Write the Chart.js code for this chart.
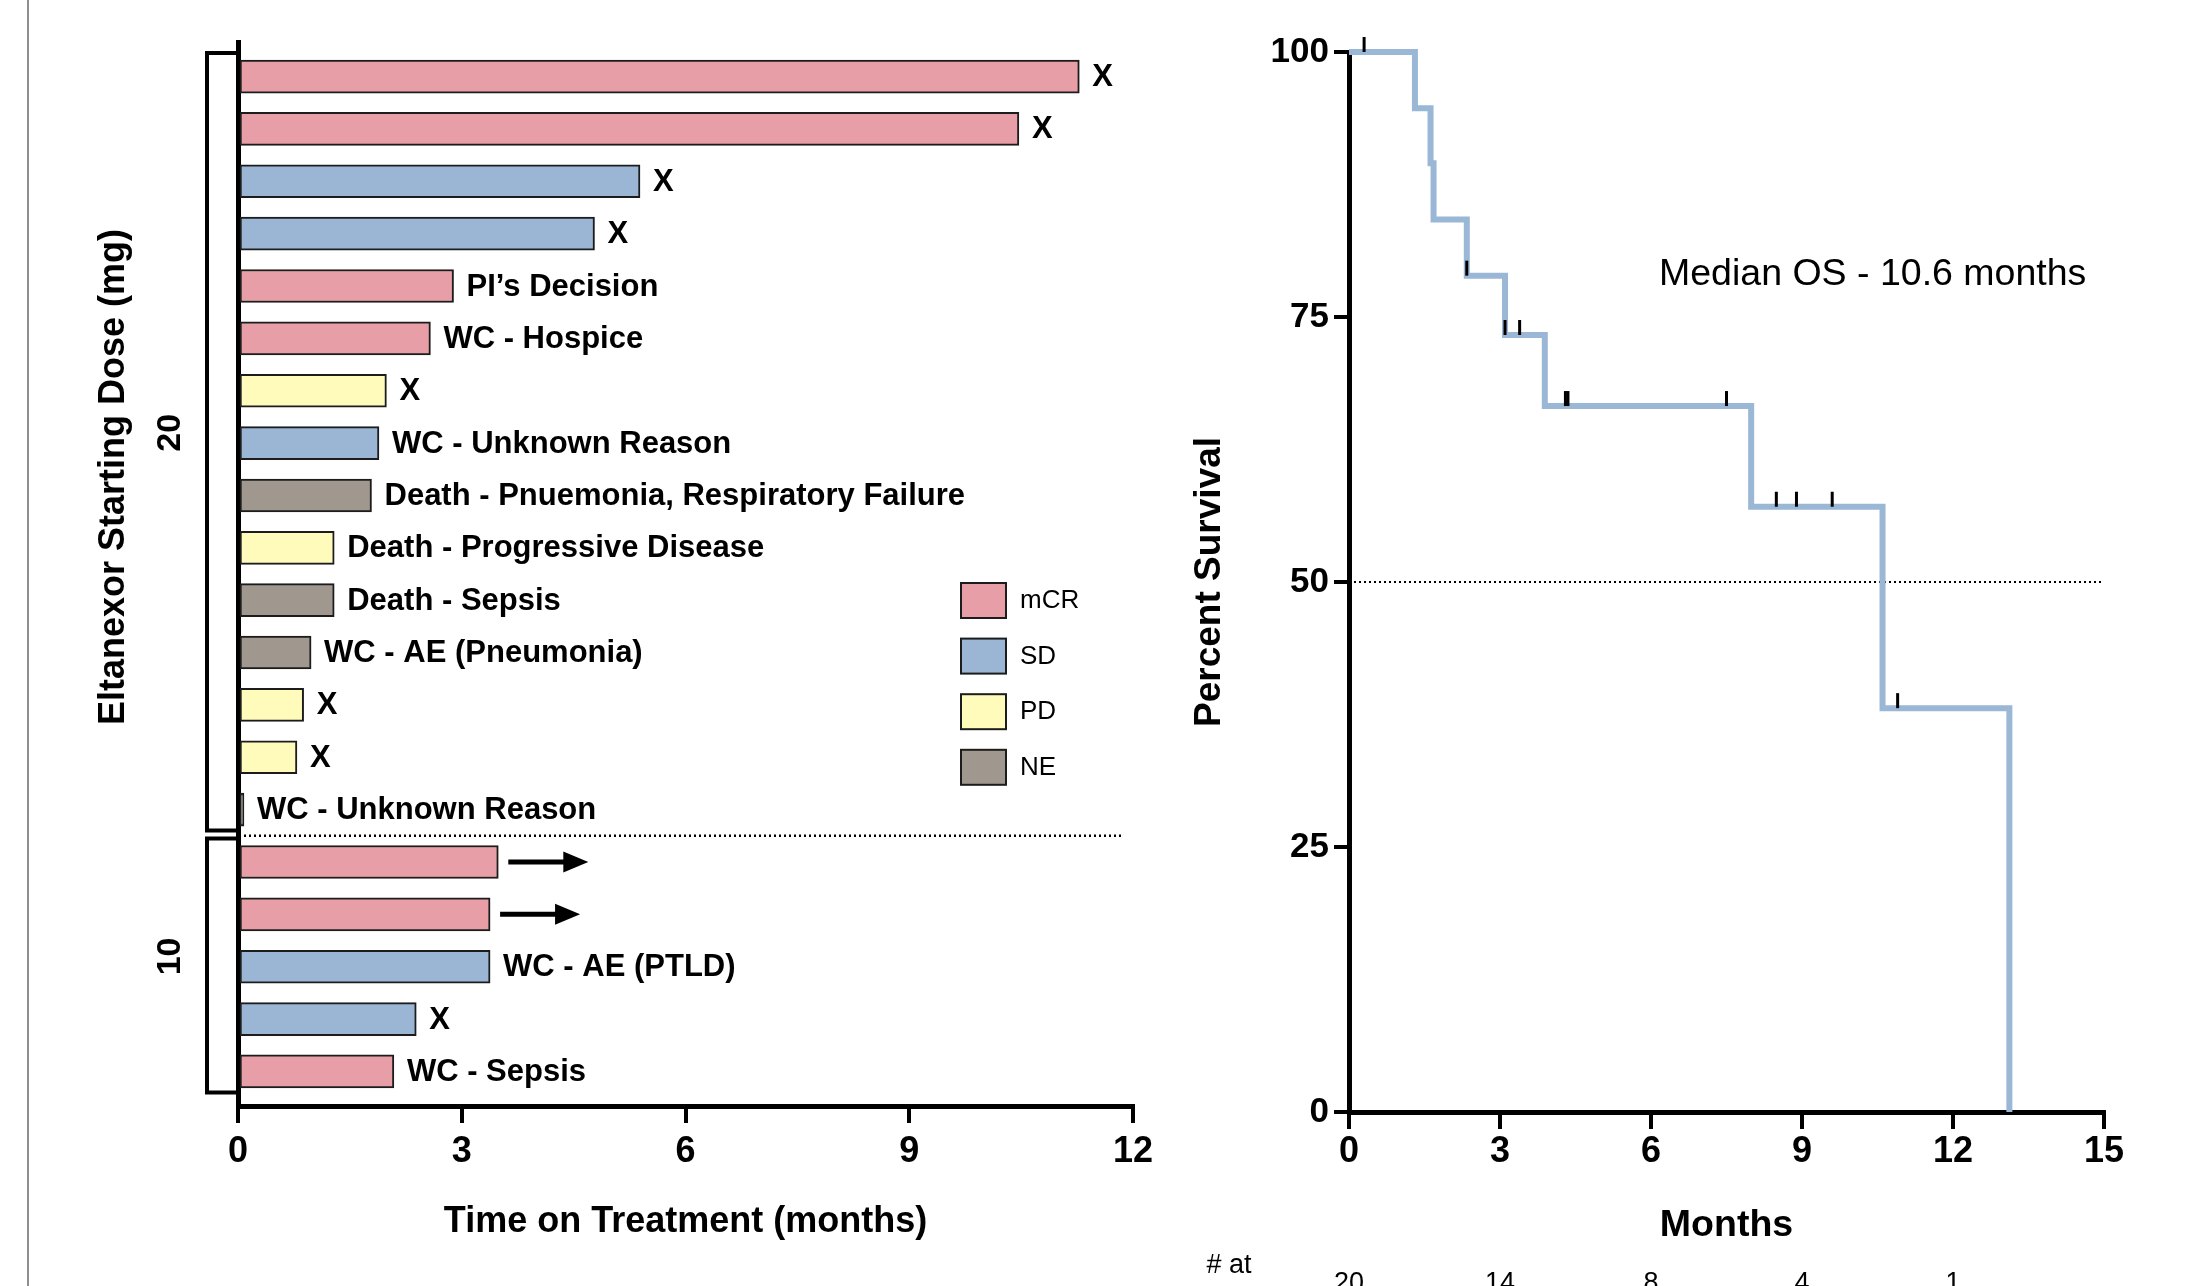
<!DOCTYPE html>
<html>
<head>
<meta charset="utf-8">
<title>Eltanexor: time on treatment and overall survival</title>
<script src="https://cdn.jsdelivr.net/npm/chart.js@4.4.0/dist/chart.umd.min.js"></script>
<style>
  html, body { margin: 0; padding: 0; background: #fff; }
  body { width: 2186px; height: 1286px; position: relative; overflow: hidden; }
  .panel { position: absolute; top: 0; height: 1286px; }
  #swimmerWrap { left: 0; width: 1170px; }
  #kmWrap { left: 1150px; width: 1036px; }
</style>
</head>
<body>
<div class="panel" id="swimmerWrap"><canvas id="swimmerChart" width="1170" height="1286"></canvas></div>
<div class="panel" id="kmWrap"><canvas id="kmChart" width="1036" height="1286"></canvas></div>
<script>
// SWIMMER PLOT DATA (top row first)
const patientRows = [1, 2, 3, 4, 5, 6, 7, 8, 9, 10, 11, 12, 13, 14, 15, 16, 17, 18, 19, 20];
const monthsOnTreatment = [11.28, 10.47, 5.39, 4.78, 2.89, 2.58, 1.99, 1.89, 1.79, 1.29, 1.29, 0.98, 0.88, 0.79, 0.08, 3.49, 3.38, 3.38, 2.39, 2.09];
const responses = ["mCR", "mCR", "SD", "SD", "mCR", "mCR", "PD", "SD", "NE", "PD", "NE", "NE", "PD", "PD", "NE", "mCR", "mCR", "SD", "SD", "mCR"];
const outcomes = [
  "X", "X", "X", "X", "PI\u2019s Decision", "WC - Hospice", "X", "WC - Unknown Reason",
  "Death - Pnuemonia, Respiratory Failure", "Death - Progressive Disease", "Death - Sepsis",
  "WC - AE (Pneumonia)", "X", "X", "WC - Unknown Reason", "ongoing", "ongoing",
  "WC - AE (PTLD)", "X", "WC - Sepsis"
];
const doseGroups = ["20", "10"];
const doseGroupFirstRow = [1, 16];
const doseGroupLastRow = [15, 20];
const responseCategories = ["mCR", "SD", "PD", "NE"];
const treatmentTicks = [0, 3, 6, 9, 12];

// KAPLAN-MEIER DATA
const eventMonths = [0, 1.31, 1.62, 1.68, 2.34, 3.1, 3.89, 7.99, 10.6, 13.12];
const survivalPercent = [100, 94.7, 89.5, 84.2, 78.9, 73.3, 66.6, 57.1, 38.1, 0];
const censoredMonths = [0.3, 2.34, 3.1, 3.39, 4.3, 4.35, 7.5, 8.49, 8.89, 9.6, 10.9];
const atRiskMonths = [0, 3, 6, 9, 12];
const atRiskCounts = [20, 14, 8, 4, 1];
const survivalTicks = [0, 25, 50, 75, 100];
const monthTicks = [0, 3, 6, 9, 12, 15];
const medianLine = 50;

const responseColors = {
  mCR: "#e79ea6",
  SD: "#9ab6d4",
  PD: "#fffbbb",
  NE: "#a0978f"
};

const FONT = "'Liberation Sans', Arial, Helvetica, sans-serif";
Chart.defaults.font.family = FONT;
Chart.defaults.color = "#000";

function survivalAt(t) {
  let level = survivalPercent[0];
  eventMonths.forEach((m, i) => {
    if (m <= t) level = survivalPercent[i];
  });
  return level;
}

// SWIMMER DECORATIONS
const swimmerDecor = {
  id: "swimmerDecor",
  afterDraw(chart) {
    const { ctx, chartArea } = chart;
    const xs = chart.scales.x;
    const ys = chart.scales.y;

    ctx.save();

    // page frame line
    ctx.strokeStyle = "#8f8f8f";
    ctx.lineWidth = 2;
    ctx.beginPath();
    ctx.moveTo(28, 0);
    ctx.lineTo(28, chart.height);
    ctx.stroke();

    // end-of-bar labels and arrows
    ctx.fillStyle = "#000";
    ctx.strokeStyle = "#000";
    ctx.textBaseline = "middle";
    ctx.textAlign = "left";
    ctx.font = "bold 31px " + FONT;
    patientRows.forEach((row, i) => {
      const x0 = xs.getPixelForValue(monthsOnTreatment[i]);
      const y = ys.getPixelForValue(row);
      if (outcomes[i] === "ongoing") {
        ctx.lineWidth = 5;
        ctx.beginPath();
        ctx.moveTo(x0 + 10, y);
        ctx.lineTo(x0 + 68, y);
        ctx.stroke();
        ctx.beginPath();
        ctx.moveTo(x0 + 65, y - 10.5);
        ctx.lineTo(x0 + 90, y);
        ctx.lineTo(x0 + 65, y + 10.5);
        ctx.closePath();
        ctx.fill();
      } else {
        ctx.fillText(outcomes[i], x0 + 13, y + 1);
      }
    });

    // dose group brackets
    ctx.lineWidth = 4;
    doseGroups.forEach((label, g) => {
      const top = ys.getPixelForValue(doseGroupFirstRow[g] - 0.45);
      const bottom = ys.getPixelForValue(doseGroupLastRow[g] + 0.4);
      const left = chartArea.left - 31;
      ctx.beginPath();
      ctx.moveTo(chartArea.left, top);
      ctx.lineTo(left, top);
      ctx.lineTo(left, bottom);
      ctx.lineTo(chartArea.left, bottom);
      ctx.stroke();

      ctx.save();
      ctx.translate(chartArea.left - 67, (top + bottom) / 2 - 9);
      ctx.rotate(-Math.PI / 2);
      ctx.textAlign = "center";
      ctx.font = "bold 34px " + FONT;
      ctx.fillText(label, 0, 0);
      ctx.restore();
    });

    // dotted separator between dose groups
    const sepY = ys.getPixelForValue(doseGroupLastRow[0] + 0.5);
    ctx.lineWidth = 2.5;
    ctx.setLineDash([2, 3]);
    ctx.beginPath();
    ctx.moveTo(chartArea.left + 6, sepY);
    ctx.lineTo(chartArea.right - 11, sepY);
    ctx.stroke();
    ctx.setLineDash([]);

    // legend
    ctx.font = "26px " + FONT;
    responseCategories.forEach((cat, i) => {
      const bx = 961;
      const by = 583 + i * 55.6;
      ctx.fillStyle = responseColors[cat];
      ctx.fillRect(bx, by, 45, 35);
      ctx.strokeStyle = "#1c1c1c";
      ctx.lineWidth = 2;
      ctx.strokeRect(bx, by, 45, 35);
      ctx.fillStyle = "#000";
      ctx.fillText(cat, 1020, by + 18);
    });

    // y axis title
    ctx.save();
    ctx.translate(114, 477);
    ctx.rotate(-Math.PI / 2);
    ctx.textAlign = "center";
    ctx.font = "bold 36px " + FONT;
    ctx.fillText("Eltanexor Starting Dose (mg)", 0, 0);
    ctx.restore();

    ctx.restore();
  }
};

new Chart(document.getElementById("swimmerChart"), {
  type: "bar",
  data: {
    datasets: [
      {
        data: patientRows.map((row, i) => ({ x: monthsOnTreatment[i], y: row })),
        backgroundColor: responses.map((r) => responseColors[r]),
        borderColor: "#1c1c1c",
        borderWidth: 2,
        borderSkipped: false,
        barThickness: 33
      }
    ]
  },
  options: {
    indexAxis: "y",
    responsive: false,
    animation: false,
    layout: { padding: { top: 42, right: 37, left: 0, bottom: 0 } },
    plugins: {
      legend: { display: false },
      tooltip: { enabled: false }
    },
    scales: {
      x: {
        type: "linear",
        min: 0,
        max: 12,
        afterBuildTicks: (scale) => {
          scale.ticks = treatmentTicks.map((v) => ({ value: v }));
        },
        ticks: {
          color: "#000",
          padding: 7,
          font: { size: 36, weight: "bold" }
        },
        grid: {
          drawOnChartArea: false,
          tickLength: 17,
          lineWidth: 4,
          tickWidth: 4,
          color: "#000",
          tickColor: "#000"
        },
        border: { width: 5, color: "#000" },
        title: {
          display: true,
          text: "Time on Treatment (months)",
          color: "#000",
          font: { size: 36, weight: "bold" },
          padding: { top: 0, bottom: 42 }
        },
        afterFit: (scale) => {
          scale.height = 180;
        }
      },
      y: {
        type: "linear",
        min: 0.34,
        max: 20.66,
        reverse: true,
        offset: false,
        grace: 0,
        ticks: { display: false },
        grid: { display: false, offset: false },
        border: { width: 5, color: "#000" },
        afterFit: (scale) => {
          scale.width = 238;
        }
      }
    }
  },
  plugins: [swimmerDecor]
});

// KAPLAN-MEIER DECORATIONS
const kmDecor = {
  id: "kmDecor",
  afterDraw(chart) {
    const { ctx } = chart;
    const xs = chart.scales.x;
    const ys = chart.scales.y;

    ctx.save();

    // censor marks
    ctx.strokeStyle = "#000";
    ctx.lineWidth = 3;
    censoredMonths.forEach((t) => {
      const x = xs.getPixelForValue(t);
      const y = ys.getPixelForValue(survivalAt(t));
      ctx.beginPath();
      ctx.moveTo(x, y);
      ctx.lineTo(x, y - 15);
      ctx.stroke();
    });

    ctx.fillStyle = "#000";
    ctx.textBaseline = "middle";

    // median annotation
    ctx.textAlign = "left";
    ctx.font = "37.5px " + FONT;
    ctx.fillText("Median OS - 10.6 months", 509, 275);

    // number at risk
    ctx.font = "27px " + FONT;
    ctx.textAlign = "center";
    ctx.fillText("# at", 79, 1266);
    ctx.fillText("risk", 79, 1304);
    atRiskMonths.forEach((t, i) => {
      ctx.fillText(String(atRiskCounts[i]), xs.getPixelForValue(t), 1284);
    });

    ctx.restore();
  }
};

new Chart(document.getElementById("kmChart"), {
  type: "line",
  data: {
    datasets: [
      {
        data: eventMonths.map((t, i) => ({ x: t, y: survivalPercent[i] })),
        stepped: "before",
        borderColor: "#9ab7d6",
        borderWidth: 6,
        borderCapStyle: "butt",
        borderJoinStyle: "miter",
        pointRadius: 0,
        fill: false,
        clip: false
      },
      {
        data: [
          { x: 0, y: medianLine },
          { x: 15, y: medianLine }
        ],
        borderColor: "#000",
        borderWidth: 2,
        borderDash: [2, 3],
        pointRadius: 0,
        fill: false
      }
    ]
  },
  options: {
    responsive: false,
    animation: false,
    layout: { padding: { top: 52, right: 82, left: 0, bottom: 0 } },
    plugins: {
      legend: { display: false },
      tooltip: { enabled: false }
    },
    scales: {
      x: {
        type: "linear",
        min: 0,
        max: 15,
        afterBuildTicks: (scale) => {
          scale.ticks = monthTicks.map((v) => ({ value: v }));
        },
        ticks: {
          color: "#000",
          padding: 1,
          font: { size: 36, weight: "bold" }
        },
        grid: {
          drawOnChartArea: false,
          tickLength: 17,
          lineWidth: 4,
          tickWidth: 4,
          color: "#000",
          tickColor: "#000"
        },
        border: { width: 5, color: "#000" },
        title: {
          display: true,
          text: "Months",
          color: "#000",
          font: { size: 37.5, weight: "bold" },
          padding: { top: 0, bottom: 38 }
        },
        afterFit: (scale) => {
          scale.height = 174;
        }
      },
      y: {
        type: "linear",
        min: 0,
        max: 100,
        afterBuildTicks: (scale) => {
          scale.ticks = survivalTicks.map((v) => ({ value: v }));
        },
        ticks: {
          color: "#000",
          padding: 5,
          font: { size: 35, weight: "bold" }
        },
        grid: {
          drawOnChartArea: false,
          tickLength: 15,
          lineWidth: 4,
          tickWidth: 4,
          color: "#000",
          tickColor: "#000"
        },
        border: { width: 5, color: "#000" },
        title: {
          display: true,
          text: "Percent Survival",
          color: "#000",
          font: { size: 37, weight: "bold" },
          padding: { top: 38, bottom: 0 }
        },
        afterFit: (scale) => {
          scale.width = 199;
        }
      }
    }
  },
  plugins: [kmDecor]
});
</script>
</body>
</html>
